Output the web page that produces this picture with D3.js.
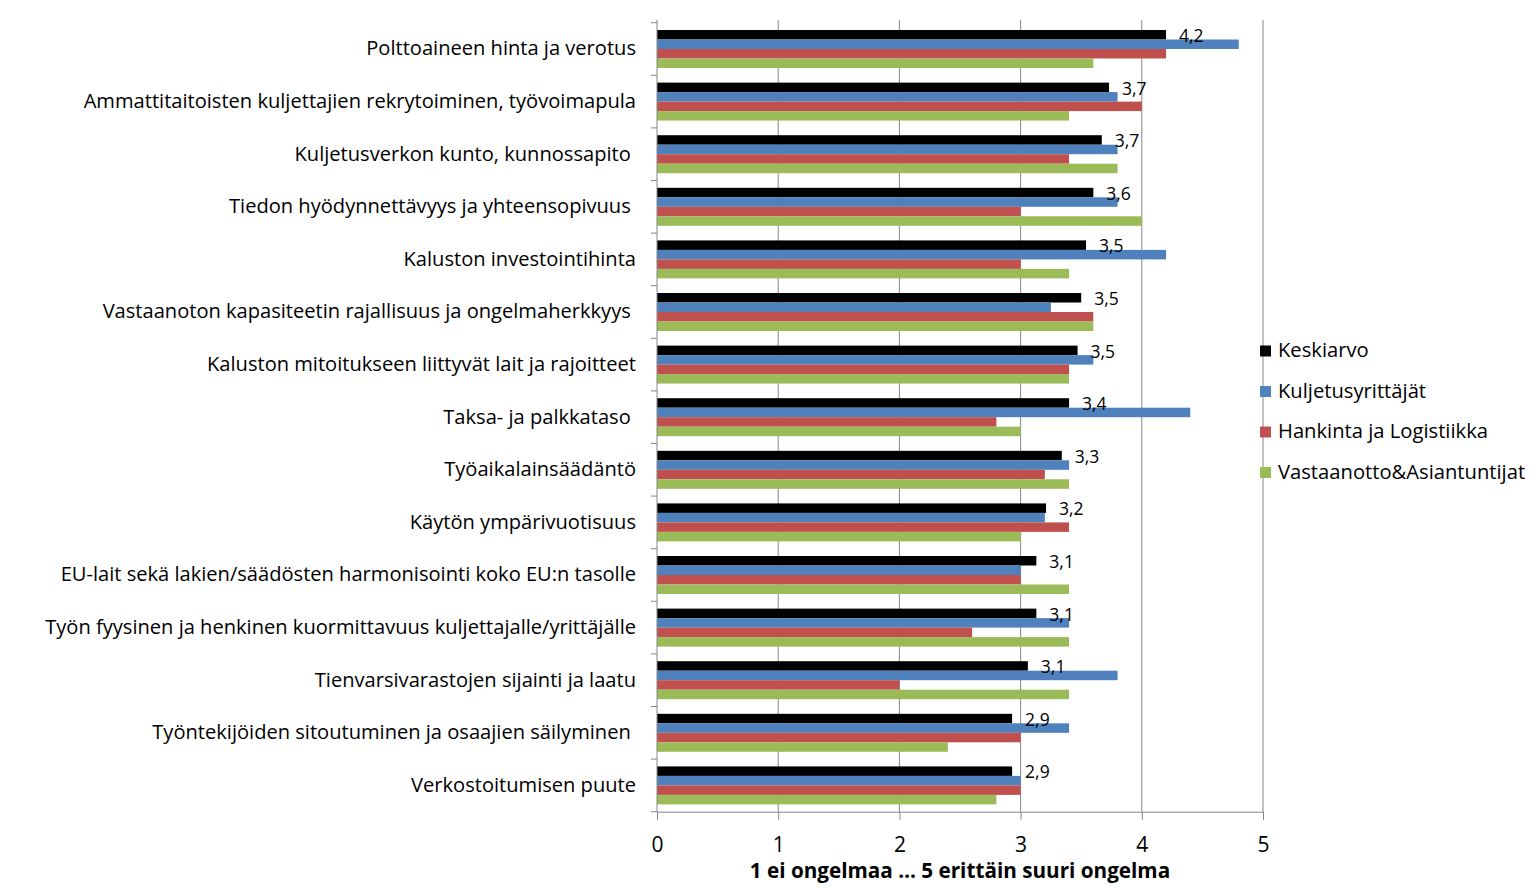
<!DOCTYPE html>
<html>
<head>
<meta charset="utf-8">
<script src="https://cdn.jsdelivr.net/npm/d3@7"></script>
<style>
  html, body { margin: 0; padding: 0; background: #fff; }
  svg { display: block; font-family: "Open Sans", Lato, sans-serif; }
  .cat { white-space: pre; }
</style>
</head>
<body>
<svg id="chart" width="1537" height="890"></svg>
<script>
const categories = [
  "Polttoaineen hinta ja verotus",
  "Ammattitaitoisten kuljettajien rekrytoiminen, työvoimapula",
  "Kuljetusverkon kunto, kunnossapito ",
  "Tiedon hyödynnettävyys ja yhteensopivuus ",
  "Kaluston investointihinta",
  "Vastaanoton kapasiteetin rajallisuus ja ongelmaherkkyys ",
  "Kaluston mitoitukseen liittyvät lait ja rajoitteet",
  "Taksa- ja palkkataso ",
  "Työaikalainsäädäntö",
  "Käytön ympärivuotisuus",
  "EU-lait sekä lakien/säädösten harmonisointi koko EU:n tasolle",
  "Työn fyysinen ja henkinen kuormittavuus kuljettajalle/yrittäjälle",
  "Tienvarsivarastojen sijainti ja laatu",
  "Työntekijöiden sitoutuminen ja osaajien säilyminen ",
  "Verkostoitumisen puute"
];
const seriesNames = ["Keskiarvo", "Kuljetusyrittäjät", "Hankinta ja Logistiikka", "Vastaanotto&Asiantuntijat"];
const keskiarvo          = [4.20, 3.73, 3.67, 3.60, 3.54, 3.50, 3.47, 3.40, 3.34, 3.21, 3.13, 3.13, 3.06, 2.93, 2.93];
const kuljetusyrittajat  = [4.8, 3.8, 3.8, 3.8, 4.2, 3.25, 3.6, 4.4, 3.4, 3.2, 3.0, 3.4, 3.8, 3.4, 3.0];
const hankintaLogistiikka= [4.2, 4.0, 3.4, 3.0, 3.0, 3.6, 3.4, 2.8, 3.2, 3.4, 3.0, 2.6, 2.0, 3.0, 3.0];
const vastaanotto        = [3.6, 3.4, 3.8, 4.0, 3.4, 3.6, 3.4, 3.0, 3.4, 3.0, 3.4, 3.4, 3.4, 2.4, 2.8];
const xTicks = [0, 1, 2, 3, 4, 5];
const xTitle = "1 ei ongelmaa … 5 erittäin suuri ongelma";

const seriesValues = [keskiarvo, kuljetusyrittajat, hankintaLogistiikka, vastaanotto];
const colors = ["#000000", "#4F81BD", "#C0504D", "#9BBB59"];

const svg = d3.select("#chart");
const pLeft = 657, pRight = 1263, pTop = 22.7, pBottom = 811.7;
const gridColor = "#868686";

const x = d3.scaleLinear().domain([0, 5]).range([pLeft, pRight]);
const pIn = 0.278;
const y0 = d3.scaleBand().domain(categories).range([pTop, pBottom]).paddingInner(pIn).paddingOuter(pIn / 2);
const y1 = d3.scaleBand().domain(seriesNames).range([0, y0.bandwidth()]);

// gridlines
svg.append("g").selectAll("line").data(xTicks.slice(1)).join("line")
  .attr("x1", d => x(d)).attr("x2", d => x(d))
  .attr("y1", 20).attr("y2", pBottom)
  .attr("stroke", gridColor).attr("stroke-width", 1);

// bars
const groups = svg.append("g").selectAll("g").data(categories).join("g")
  .attr("transform", c => `translate(0,${y0(c)})`);
groups.selectAll("rect").data((c, i) => seriesNames.map((s, j) => ({ s, v: seriesValues[j][i], j })))
  .join("rect")
  .attr("x", x(0))
  .attr("y", d => y1(d.s))
  .attr("width", d => x(d.v) - x(0))
  .attr("height", y1.bandwidth())
  .attr("fill", d => colors[d.j]);

// data labels for average
const fmt = v => d3.format(".1f")(v).replace(".", ",");
svg.append("g").selectAll("text").data(categories).join("text")
  .attr("x", (c, i) => x(keskiarvo[i]) + 13)
  .attr("y", c => y0(c) + y1("Keskiarvo") + y1.bandwidth() / 2 + 2.5)
  .attr("dominant-baseline", "middle")
  .attr("font-size", 17.5)
  .attr("fill", "#000")
  .text((c, i) => fmt(keskiarvo[i]));

// y axis
const step = y0.step();
const yTickPos = d3.range(categories.length + 1).map(i => pTop + i * step);
svg.append("line").attr("x1", pLeft).attr("x2", pLeft).attr("y1", 20).attr("y2", pBottom)
  .attr("stroke", gridColor);
svg.append("g").selectAll("line").data(yTickPos).join("line")
  .attr("x1", pLeft - 6).attr("x2", pLeft).attr("y1", d => d).attr("y2", d => d)
  .attr("stroke", gridColor);
svg.append("g").selectAll("text").data(categories).join("text")
  .attr("class", "cat")
  .attr("x", 636)
  .attr("y", c => y0(c) + y0.bandwidth() / 2 + 1)
  .attr("text-anchor", "end")
  .attr("dominant-baseline", "middle")
  .attr("font-size", 20.1)
  .attr("fill", "#000")
  .text(c => c);

// x axis
const xAxis = d3.axisBottom(x).tickValues(xTicks).tickSize(8).tickPadding(17).tickFormat(d3.format("d"));
const gx = svg.append("g").attr("transform", `translate(0,${pBottom})`).call(xAxis);
gx.select(".domain").attr("stroke", gridColor);
gx.selectAll(".tick line").attr("stroke", gridColor);
gx.selectAll(".tick text").attr("font-size", 21).attr("fill", "#000").attr("font-family", "'Open Sans', sans-serif");

svg.append("text")
  .attr("x", x(2.5)).attr("y", 872)
  .attr("text-anchor", "middle").attr("dominant-baseline", "middle")
  .attr("font-size", 20.7).attr("font-weight", "bold").attr("fill", "#000")
  .text(xTitle);

// legend
const legendY = [351, 391.5, 432, 472.5];
const lg = svg.append("g").selectAll("g").data(seriesNames).join("g")
  .attr("transform", (d, i) => `translate(1260,${legendY[i]})`);
lg.append("rect").attr("x", 0).attr("y", -5.5).attr("width", 11).attr("height", 11)
  .attr("fill", (d, i) => colors[i]);
lg.append("text").attr("x", 18).attr("y", 1).attr("dominant-baseline", "middle")
  .attr("font-size", 20.2).attr("fill", "#000").text(d => d);
</script>
</body>
</html>
